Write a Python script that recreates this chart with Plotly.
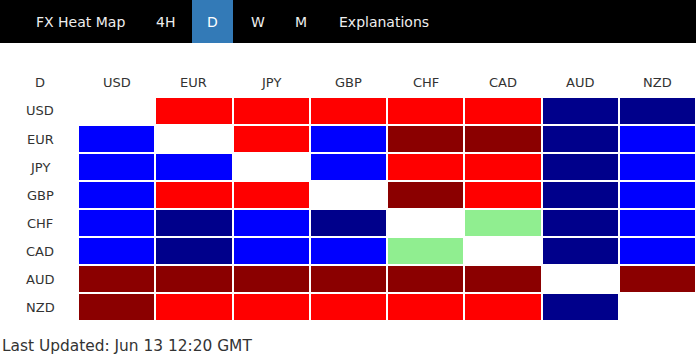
import plotly.graph_objects as go

# ---- data ----
currencies = ["USD", "EUR", "JPY", "GBP", "CHF", "CAD", "AUD", "NZD"]
timeframes = ["4H", "D", "W", "M"]
active_timeframe = "D"
# strength codes: 2 strong up (dark red), 1 up (red), 0 flat (light green),
# -1 down (blue), -2 strong down (navy), None = same currency
usd_row = [None, 1, 1, 1, 1, 1, -2, -2]
eur_row = [-1, None, 1, -1, 2, 2, -2, -1]
jpy_row = [-1, -1, None, -1, 1, 1, -2, -1]
gbp_row = [-1, 1, 1, None, 2, 1, -2, -1]
chf_row = [-1, -2, -1, -2, None, 0, -2, -1]
cad_row = [-1, -2, -1, -1, 0, None, -2, -1]
aud_row = [2, 2, 2, 2, 2, 2, None, 2]
nzd_row = [2, 1, 1, 1, 1, 1, -2, None]
last_updated = "Last Updated: Jun 13 12:20 GMT"

z = [usd_row, eur_row, jpy_row, gbp_row, chf_row, cad_row, aud_row, nzd_row]

W, H = 696, 358
FONT = "DejaVu Sans"
TXT = "#333333"

colorscale = [
    [0.0, "#00008b"], [0.2, "#00008b"],
    [0.2, "#0000ff"], [0.4, "#0000ff"],
    [0.4, "#90ee90"], [0.6, "#90ee90"],
    [0.6, "#ff0000"], [0.8, "#ff0000"],
    [0.8, "#8b0000"], [1.0, "#8b0000"],
]

fig = go.Figure(go.Heatmap(
    z=z, x=currencies, y=currencies,
    zmin=-2.5, zmax=2.5, colorscale=colorscale,
    xgap=2, ygap=2, showscale=False, hoverongaps=False,
))

def py(px):
    return 1 - px / H

fig.update_layout(
    width=W, height=H, autosize=False,
    margin=dict(l=0, r=0, t=0, b=0),
    paper_bgcolor="white", plot_bgcolor="white",
    xaxis=dict(domain=[78 / W, 1], showticklabels=False, showgrid=False,
               zeroline=False, ticks="", fixedrange=True),
    yaxis=dict(domain=[py(321), py(97)], autorange="reversed",
               showticklabels=False, showgrid=False, zeroline=False,
               ticks="", fixedrange=True),
    showlegend=False,
)

# nav bar
fig.add_shape(type="rect", xref="paper", yref="paper", x0=0, x1=1,
              y0=py(43), y1=1, fillcolor="black", line_width=0, layer="below")
fig.add_shape(type="rect", xref="paper", yref="paper", x0=192 / W, x1=233 / W,
              y0=py(43), y1=1, fillcolor="#337ab7", line_width=0, layer="below")

nav_items = ["FX Heat Map"] + timeframes + ["Explanations"]
nav_x = [80, 165.5, 212.5, 257.5, 301, 383.5]
for label, cx in zip(nav_items, nav_x):
    fig.add_annotation(text=label, x=cx / W, y=py(22), xref="paper", yref="paper",
                       xanchor="center", yanchor="middle", showarrow=False,
                       font=dict(family=FONT, size=14,
                                 color="#ffffff" if label == active_timeframe else "#eeeeee"))

# header labels
fig.add_annotation(text=active_timeframe, x=40 / W, y=py(82), xref="paper", yref="paper",
                   xanchor="center", yanchor="middle", showarrow=False,
                   font=dict(family=FONT, size=13, color=TXT))
for c in currencies:
    fig.add_annotation(text=c, x=c, y=py(82), xref="x", yref="paper",
                       xanchor="center", yanchor="middle", showarrow=False,
                       font=dict(family=FONT, size=13, color=TXT))
    fig.add_annotation(text=c, x=40 / W, y=c, xref="paper", yref="y",
                       xanchor="center", yanchor="middle", showarrow=False,
                       font=dict(family=FONT, size=13, color=TXT))

fig.add_annotation(text=last_updated, x=0, y=py(345.5), xref="paper", yref="paper",
                   xanchor="left", yanchor="middle", showarrow=False,
                   font=dict(family=FONT, size=15.4, color=TXT))

fig.write_html("out.html", config=dict(displayModeBar=False),
               post_script="document.body.style.margin='0';document.body.style.overflow='hidden';")
